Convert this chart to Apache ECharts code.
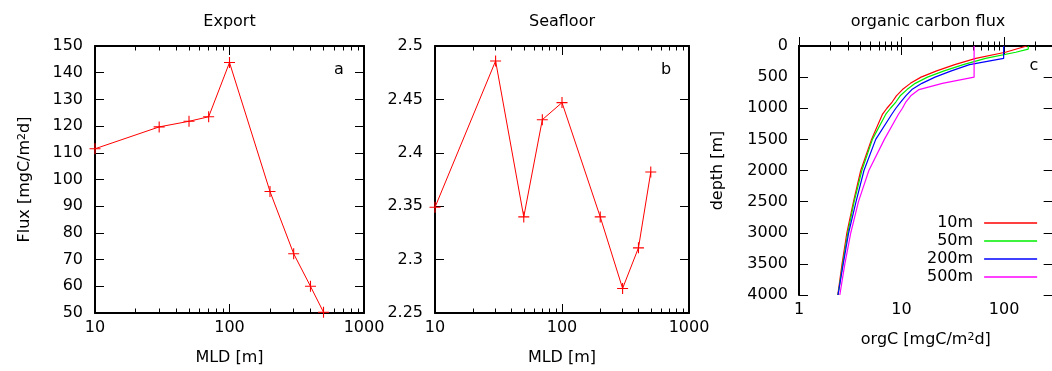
<!DOCTYPE html>
<html>
<head>
<meta charset="utf-8">
<script src="https://cdn.jsdelivr.net/npm/echarts@6/dist/echarts.min.js"></script>
<style>
  html, body { margin: 0; padding: 0; background: #fff; overflow: hidden; }
  #chart { width: 1130px; height: 371px; }
</style>
</head>
<body>
<div id="chart"></div>
<script>
// panel a / b: mixed layer depth runs
const mld = [10, 30, 50, 70, 100, 200, 300, 400, 500];
const exportFlux = [111.5, 119.7, 121.8, 123.5, 143.8, 95.5, 72.2, 60.0, 50.3];
const seafloorFlux = [2.349, 2.486, 2.340, 2.431, 2.447, 2.340, 2.273, 2.311, 2.382];

// panel c: organic carbon flux profiles
const depth10 = [0, 10, 100, 200, 300, 400, 500, 600, 700, 800, 900, 1000, 1100, 1500, 2000, 2500, 3000, 3500, 4000];
const orgc10 = [166, 166, 103, 53, 33, 22, 15.5, 12.2, 10.2, 8.9, 8.1, 7.2, 6.5, 5.1, 4.0, 3.4, 2.93, 2.63, 2.39];
const depth50 = [0, 50, 100, 200, 300, 400, 500, 600, 700, 800, 900, 1000, 1100, 1500, 2000, 2500, 3000, 3500, 4000];
const orgc50 = [172, 172, 130, 66, 40, 26, 17.9, 13.6, 11.3, 9.7, 8.8, 7.8, 7.0, 5.2, 4.1, 3.45, 2.99, 2.67, 2.4];
const depth200 = [0, 200, 300, 400, 500, 600, 700, 800, 900, 1000, 1100, 1500, 2000, 2500, 3000, 3500, 4000];
const orgc200 = [99, 99, 46, 30.6, 21.2, 15.8, 12.6, 11.0, 9.8, 8.8, 8.0, 5.6, 4.3, 3.6, 3.05, 2.7, 2.4];
const depth500 = [0, 500, 600, 700, 800, 900, 1000, 1100, 1500, 2000, 2500, 3000, 3500, 4000];
const orgc500 = [51, 51, 25, 14.8, 12.3, 11.0, 10.2, 9.3, 6.8, 4.8, 3.8, 3.2, 2.8, 2.5];

const profileNames = ['10m', '50m', '200m', '500m'];
const profileColors = ['#ff0000', '#00ee00', '#0000ff', '#ff00ff'];

const FONT = 'DejaVu Sans';
const txt = { fontFamily: FONT, fontSize: 16, color: '#000' };
const supRich = { sup: { fontFamily: FONT, fontSize: 11, verticalAlign: 'top', color: '#000' } };
const plus = 'path://M4.5,0h1v4.5h4.5v1h-4.5v4.5h-1v-4.5h-4.5v-1h4.5z';
const plain = v => String(+(+v).toPrecision(10));

const zip = (xs, ys) => xs.map((x, i) => [x, ys[i]]);

// shared axis look (gnuplot style frame, ticks inward)
function frameAxis(extra) {
  return Object.assign({
    axisLine: { show: true, lineStyle: { color: '#000', width: 2 } },
    axisTick: { show: true, inside: true, length: 9, lineStyle: { color: '#000', width: 1 } },
    splitLine: { show: false },
    axisLabel: Object.assign({ show: true, formatter: plain }, txt),
    nameTextStyle: Object.assign({ rich: supRich }, txt)
  }, extra);
}

function logX(gridIndex, min, max, top, name, nameGap) {
  return frameAxis({
    type: 'log', logBase: 10, gridIndex, min, max,
    position: top ? 'top' : 'bottom',
    minorTick: { show: true, splitNumber: 9, length: 4.5, lineStyle: { color: '#000', width: 1 } },
    axisLabel: Object.assign({ show: !top, margin: 7, formatter: plain }, txt),
    name: top ? '' : name, nameLocation: 'middle', nameGap: nameGap
  });
}

function linY(gridIndex, min, max, interval, right, extra) {
  return frameAxis(Object.assign({
    type: 'value', gridIndex, min, max, interval,
    position: right ? 'right' : 'left',
    axisLabel: Object.assign({ show: !right, margin: 12, formatter: plain }, txt)
  }, extra || {}));
}

const chart = echarts.init(document.getElementById('chart'), null, { renderer: 'canvas' });

const option = {
  animation: false,
  backgroundColor: '#fff',
  grid: [
    { left: 95, top: 46, width: 269, height: 267 },
    { left: 435, top: 46, width: 254, height: 267 },
    { left: 799, top: 46, width: 312, height: 249 }
  ],
  xAxis: [
    logX(0, 10, 1000, false, 'MLD [m]', 37),
    logX(0, 10, 1000, true),
    logX(1, 10, 1000, false, 'MLD [m]', 37),
    logX(1, 10, 1000, true),
    Object.assign(logX(2, 1, 1000, false, 'orgC [mgC/m{sup|2}d]', 37), {
      nameTextStyle: Object.assign({ rich: supRich, padding: [0, 54, 0, 0] }, txt)
    }),
    logX(2, 1, 1000, true)
  ],
  yAxis: [
    linY(0, 50, 150, 10, false, { name: 'Flux [mgC/m{sup|2}d]', nameLocation: 'middle', nameGap: 62 }),
    linY(0, 50, 150, 10, true),
    linY(1, 2.25, 2.5, 0.05, false),
    linY(1, 2.25, 2.5, 0.05, true),
    linY(2, 0, 4000, 500, false, { inverse: true, name: 'depth [m]', nameLocation: 'middle', nameGap: 73, axisLabel: Object.assign({ margin: 11, formatter: plain }, txt) }),
    linY(2, 0, 4000, 500, true, { inverse: true, offset: -54 })
  ],
  legend: {
    data: profileNames,
    orient: 'vertical',
    align: 'right',
    left: 922,
    top: 209,
    itemGap: 0,
    itemWidth: 53,
    itemHeight: 1.5,
    icon: 'rect',
    textStyle: Object.assign({ lineHeight: 18, padding: [0, 6, 0, 0] }, txt)
  },
  graphic: [
    { type: 'text', x: 229.5, y: 22, style: { text: 'Export', align: 'center', verticalAlign: 'middle', font: '16px "DejaVu Sans"', fill: '#000' } },
    { type: 'text', x: 562, y: 22, style: { text: 'Seafloor', align: 'center', verticalAlign: 'middle', font: '16px "DejaVu Sans"', fill: '#000' } },
    { type: 'text', x: 928, y: 22, style: { text: 'organic carbon flux', align: 'center', verticalAlign: 'middle', font: '16px "DejaVu Sans"', fill: '#000' } },
    { type: 'text', x: 339, y: 70, style: { text: 'a', align: 'center', verticalAlign: 'middle', font: '16px "DejaVu Sans"', fill: '#000' } },
    { type: 'text', x: 666, y: 70, style: { text: 'b', align: 'center', verticalAlign: 'middle', font: '16px "DejaVu Sans"', fill: '#000' } },
    { type: 'text', x: 1034, y: 66, style: { text: 'c', align: 'center', verticalAlign: 'middle', font: '16px "DejaVu Sans"', fill: '#000' } }
  ],
  series: [
    {
      name: 'Export', type: 'line', xAxisIndex: 0, yAxisIndex: 0,
      data: zip(mld, exportFlux),
      symbol: plus, symbolSize: 11,
      lineStyle: { color: '#ff0000', width: 1 },
      itemStyle: { color: '#ff0000' },
      clip: false
    },
    {
      name: 'Seafloor', type: 'line', xAxisIndex: 2, yAxisIndex: 2,
      data: zip(mld, seafloorFlux),
      symbol: plus, symbolSize: 11,
      lineStyle: { color: '#ff0000', width: 1 },
      itemStyle: { color: '#ff0000' },
      clip: false
    }
  ].concat([[depth10, orgc10], [depth50, orgc50], [depth200, orgc200], [depth500, orgc500]].map((p, i) => ({
    name: profileNames[i], type: 'line', xAxisIndex: 4, yAxisIndex: 4,
    data: zip(p[1], p[0]),
    showSymbol: false, symbol: 'none',
    lineStyle: { color: profileColors[i], width: 1.2 },
    itemStyle: { color: profileColors[i] }
  })))
};

chart.setOption(option);
</script>
</body>
</html>
